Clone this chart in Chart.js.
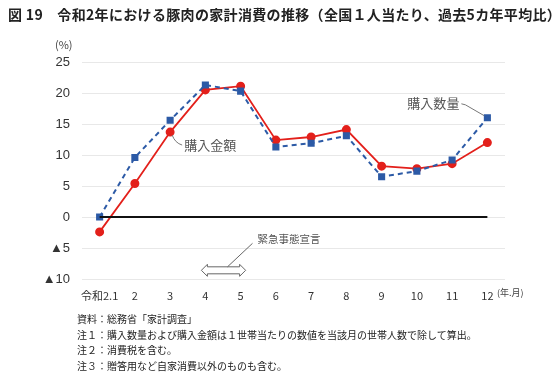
<!DOCTYPE html>
<html><head><meta charset="utf-8">
<script src="https://cdn.jsdelivr.net/npm/chart.js@4.4.1/dist/chart.umd.min.js"></script>
<style>
html,body{margin:0;padding:0;background:#fff;}
body{width:558px;height:376px;position:relative;overflow:hidden;font-family:"Noto Sans CJK JP","Noto Sans",sans-serif;color:#222;}
#wrap{position:absolute;left:0;top:0;width:558px;height:376px;}
.title{position:absolute;left:8px;top:4px;font-size:14px;font-weight:bold;white-space:nowrap;letter-spacing:0.33px;color:#222;}
.notes{position:absolute;left:77px;top:311px;font-size:10px;line-height:15.6px;white-space:nowrap;color:#222;}
.unit{position:absolute;left:55px;top:36px;font-size:11px;color:#444;}
.xunit{position:absolute;left:497px;top:286px;font-size:9px;color:#444;}
</style></head>
<body>
<div id="wrap"><canvas id="c" width="558" height="376"></canvas></div>
<div class="title">図 19　令和2年における豚肉の家計消費の推移（全国１人当たり、過去5カ年平均比）</div>
<div class="unit">(%)</div>
<div class="xunit">(年.月)</div>
<div class="notes">資料：総務省「家計調査」<br>注１：購入数量および購入金額は１世帯当たりの数値を当該月の世帯人数で除して算出。<br>注２：消費税を含む。<br>注３：贈答用など自家消費以外のものも含む。</div>
<script>
const categories = ["令和2.1","2","3","4","5","6","7","8","9","10","11","12"];
const quantity = [0.0, 9.6, 15.6, 21.3, 20.3, 11.3, 11.9, 13.1, 6.5, 7.4, 9.2, 16.0];
const amount = [-2.4, 5.4, 13.7, 20.5, 21.1, 12.4, 12.9, 14.1, 8.2, 7.8, 8.6, 12.0];
const yTicks = [25, 20, 15, 10, 5, 0, -5, -10];
const seriesNames = ["購入数量", "購入金額"];
const emergencyLabel = "緊急事態宣言";
const emergencyFrom = 3, emergencyTo = 4;

const annot = {
  id: 'annot',
  afterDatasetsDraw(chart) {
    const ctx = chart.ctx, x = chart.scales.x, y = chart.scales.y;
    ctx.save();
    ctx.strokeStyle = '#111'; ctx.lineWidth = 2;
    ctx.beginPath();
    ctx.moveTo(x.getPixelForValue(0), y.getPixelForValue(0));
    ctx.lineTo(x.getPixelForValue(categories.length - 1), y.getPixelForValue(0));
    ctx.stroke();
    ctx.restore();
  },
  afterDraw(chart) {
    const ctx = chart.ctx, x = chart.scales.x, y = chart.scales.y;
    ctx.save();
    ctx.font = '13px "Noto Sans CJK JP"';
    ctx.fillStyle = '#555'; ctx.strokeStyle = '#777'; ctx.lineWidth = 1;
    ctx.textBaseline = 'middle';
    const ax = x.getPixelForValue(2), ay = y.getPixelForValue(amount[2]);
    ctx.beginPath();
    ctx.moveTo(ax + 2, ay + 3);
    ctx.quadraticCurveTo(ax + 5, ay + 11, ax + 12, ay + 13);
    ctx.stroke();
    ctx.textAlign = 'left';
    ctx.fillText(seriesNames[1], ax + 14, ay + 13);
    const qx = x.getPixelForValue(11), qy = y.getPixelForValue(quantity[11]);
    ctx.beginPath();
    ctx.moveTo(qx - 3, qy - 2);
    ctx.lineTo(qx - 22, qy - 13);
    ctx.lineTo(qx - 26, qy - 14);
    ctx.stroke();
    ctx.textAlign = 'right';
    ctx.fillText(seriesNames[0], qx - 28, qy - 15);
    const x1 = x.getPixelForValue(emergencyFrom) - 4, x2 = x.getPixelForValue(emergencyTo) + 5;
    const cy = y.getPixelForValue(-8.6);
    const h = 3.5, hw = 6;
    ctx.strokeStyle = '#666'; ctx.lineWidth = 1;
    ctx.beginPath();
    ctx.moveTo(x1, cy);
    ctx.lineTo(x1 + hw, cy - h - 2.5);
    ctx.lineTo(x1 + hw, cy - h);
    ctx.lineTo(x2 - hw, cy - h);
    ctx.lineTo(x2 - hw, cy - h - 2.5);
    ctx.lineTo(x2, cy);
    ctx.lineTo(x2 - hw, cy + h + 2.5);
    ctx.lineTo(x2 - hw, cy + h);
    ctx.lineTo(x1 + hw, cy + h);
    ctx.lineTo(x1 + hw, cy + h + 2.5);
    ctx.closePath();
    ctx.stroke();
    const mx = (x1 + x2) / 2 + 4;
    ctx.beginPath();
    ctx.moveTo(mx, cy - h);
    ctx.lineTo(mx + 25, cy - 27);
    ctx.stroke();
    ctx.font = '10.5px "Noto Sans CJK JP"';
    ctx.fillStyle = '#555'; ctx.textAlign = 'left';
    ctx.fillText(emergencyLabel, mx + 30, cy - 31);
    ctx.restore();
  }
};

new Chart(document.getElementById('c'), {
  type: 'line',
  data: {
    labels: categories,
    datasets: [
      { label: seriesNames[1], data: amount, borderColor: '#e3201b', backgroundColor: '#e3201b',
        borderWidth: 1.8, pointStyle: 'circle', pointRadius: 3.6, tension: 0, order: 2 },
      { label: seriesNames[0], data: quantity, borderColor: '#2c5aa6', backgroundColor: '#2c5aa6',
        borderWidth: 2, borderDash: [5, 4], pointStyle: 'rect', pointRadius: 3.6, tension: 0, order: 1 }
    ]
  },
  options: {
    responsive: false, animation: false, devicePixelRatio: 1,
    layout: { padding: { left: 0, top: 62, right: 53, bottom: 67 } },
    plugins: { legend: { display: false }, tooltip: { enabled: false } },
    scales: {
      x: {
        offset: true,
        grid: { display: false, drawTicks: false },
        border: { display: false },
        ticks: { color: '#333', font: { size: 11, family: '"Noto Sans CJK JP", sans-serif' }, padding: 10, maxRotation: 0, autoSkip: false },
        afterFit(s) { s.height = 30; }
      },
      y: {
        min: -10, max: 25,
        afterBuildTicks(s) { s.ticks = yTicks.map(v => ({ value: v })); },
        grid: { color: '#e8e8e8', lineWidth: 1, drawTicks: false },
        border: { display: false },
        ticks: {
          color: '#333', padding: 12,
          font: { size: 13, family: '"Liberation Sans", "DejaVu Sans", sans-serif' },
          callback: v => v < 0 ? '▲' + Math.abs(v) : String(v)
        },
        afterFit(s) { s.width = 82; }
      }
    }
  },
  plugins: [annot]
});
</script>
</body></html>
